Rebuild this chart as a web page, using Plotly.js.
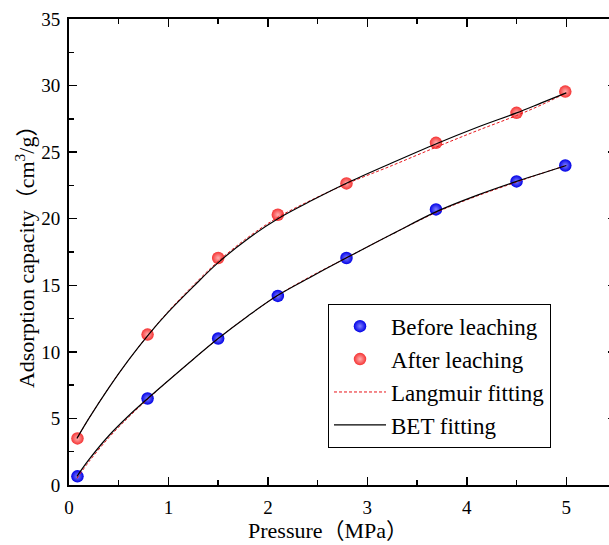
<!DOCTYPE html>
<html>
<head>
<meta charset="utf-8">
<script src="https://cdn.plot.ly/plotly-3.0.1.min.js"></script>
<style>
html,body{margin:0;padding:0;overflow:hidden;background:#fff;width:609px;height:545px;}
#chart{width:616px;height:545px;}
</style>
</head>
<body>
<div id="chart"></div>
<script>
// Measured points
const pressureBefore = [0.085, 0.79, 1.50, 2.10, 2.79, 3.69, 4.50, 4.99];
const capacityBefore = [0.65, 6.5, 11.0, 14.2, 17.05, 20.7, 22.8, 24.0];
const pressureAfter = [0.085, 0.79, 1.50, 2.10, 2.79, 3.69, 4.50, 4.99];
const capacityAfter = [3.5, 11.3, 17.05, 20.3, 22.65, 25.7, 27.95, 29.55];

// Fitted curves
const fitPressure = [0.08, 0.2, 0.4, 0.6, 0.8, 1.0, 1.25, 1.5, 1.8, 2.1, 2.45, 2.8, 3.25, 3.7, 4.1, 4.5, 4.75, 5.0];
const betBefore = [0.65, 1.9, 3.7, 5.2, 6.55, 7.85, 9.45, 11.0, 12.7, 14.25, 15.7, 17.1, 18.85, 20.55, 21.75, 22.8, 23.4, 24.0];
const langBefore = [0.5, 1.75, 3.55, 5.1, 6.5, 7.85, 9.45, 11.0, 12.7, 14.25, 15.75, 17.1, 18.85, 20.5, 21.7, 22.75, 23.4, 24.0];
const betAfter = [3.5, 5.0, 7.3, 9.4, 11.3, 13.0, 14.9, 16.7, 18.5, 20.0, 21.4, 22.7, 24.2, 25.65, 26.85, 27.95, 28.7, 29.45];
const langAfter = [3.5, 5.0, 7.3, 9.4, 11.3, 13.05, 15.0, 16.8, 18.6, 20.1, 21.45, 22.65, 24.0, 25.4, 26.6, 27.75, 28.55, 29.45];

const legendNames = ["Before leaching", "After leaching", "Langmuir fitting", "BET fitting"];
const xTicks = [0, 1, 2, 3, 4, 5];
const yTicks = [0, 5, 10, 15, 20, 25, 30, 35];
const xTitle = "Pressure（MPa）";
const yTitle = "Adsorption capacity（cm<sup>3</sup>/g）";

const serif = "Liberation Serif";
const titleFamily = "Liberation Serif, Noto Sans CJK SC";

const traces = [
  {x: pressureBefore, y: capacityBefore, mode: "markers", type: "scatter", name: legendNames[0], legendrank: 1,
   marker: {size: 12.5, color: "#0000e6", gradient: {type: "radial", color: "#8080ff"}}},
  {x: pressureAfter, y: capacityAfter, mode: "markers", type: "scatter", name: legendNames[1], legendrank: 2,
   marker: {size: 12.5, color: "#f53333", gradient: {type: "radial", color: "#ffb0b0"}}},
  {x: fitPressure, y: langBefore, mode: "lines", type: "scatter", name: legendNames[2], legendrank: 3,
   line: {color: "#e8141a", width: 1, dash: "3px,2px", shape: "spline"}},
  {x: fitPressure, y: langAfter, mode: "lines", type: "scatter", name: legendNames[2], showlegend: false,
   line: {color: "#e8141a", width: 1, dash: "3px,2px", shape: "spline"}},
  {x: fitPressure, y: betBefore, mode: "lines", type: "scatter", name: legendNames[3], legendrank: 4,
   line: {color: "#000", width: 1.2, shape: "spline"}},
  {x: fitPressure, y: betAfter, mode: "lines", type: "scatter", name: legendNames[3], showlegend: false,
   line: {color: "#000", width: 1.2, shape: "spline"}}
];

const axisCommon = {
  showgrid: false, zeroline: false,
  showline: true, linecolor: "#000", linewidth: 2, mirror: "ticks",
  ticks: "inside", ticklen: 8, tickwidth: 1.5, tickcolor: "#000",
  tickfont: {family: serif, size: 19, color: "#000"},
  minor: {ticks: "inside", ticklen: 5, tickwidth: 1.5, tickcolor: "#000"}
};

const layout = {
  width: 616, height: 545,
  margin: {l: 69, r: 0, t: 19, b: 60},
  paper_bgcolor: "#fff", plot_bgcolor: "#fff",
  font: {family: serif, color: "#000"},
  showlegend: true,
  legend: {
    x: 0.4735, y: 0.389, xanchor: "left", yanchor: "top",
    bordercolor: "#000", borderwidth: 1, bgcolor: "#fff",
    font: {family: serif, size: 23, color: "#000"},
    traceorder: "normal", itemwidth: 52
  },
  xaxis: Object.assign({}, axisCommon, {
    range: [0, 5.5], tickvals: xTicks, ticktext: xTicks.map(String),
    minor: Object.assign({}, axisCommon.minor, {dtick: 0.5, tick0: 0}),
    ticklabelstandoff: 4
  }),
  yaxis: Object.assign({}, axisCommon, {
    range: [0, 35], tickvals: yTicks, ticktext: yTicks.map(String),
    minor: Object.assign({}, axisCommon.minor, {dtick: 2.5, tick0: 0}),
    ticklabelstandoff: 3
  }),
  annotations: [
    {text: xTitle, xref: "paper", yref: "paper", x: 0.4735, y: -0.0966, xanchor: "center", yanchor: "middle",
     showarrow: false, font: {family: titleFamily, size: 22, color: "#000"}},
    {text: yTitle, xref: "paper", yref: "paper", x: -0.0804, y: 0.502, xanchor: "center", yanchor: "middle",
     textangle: -90, showarrow: false, font: {family: titleFamily, size: 22, color: "#000"}}
  ]
};

Plotly.newPlot("chart", traces, layout, {displayModeBar: false, staticPlot: true});
</script>
</body>
</html>
